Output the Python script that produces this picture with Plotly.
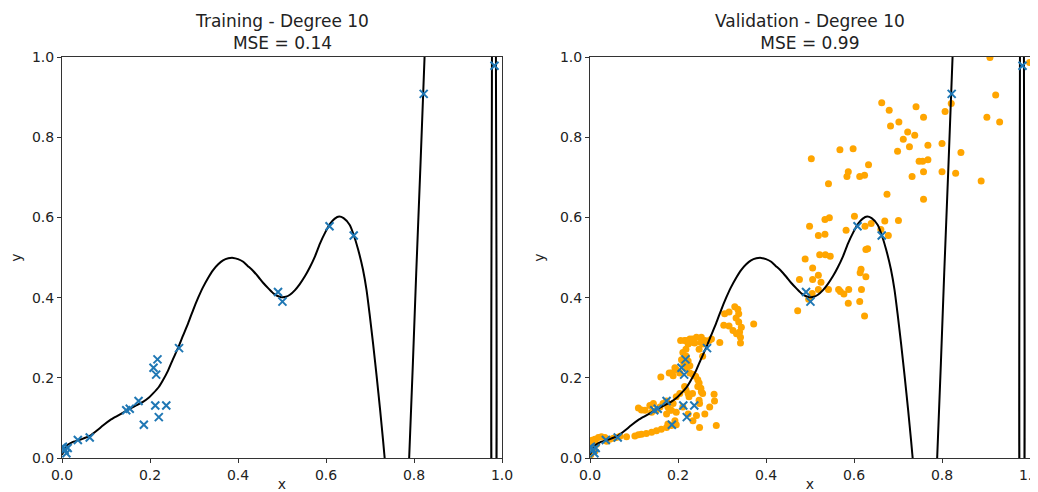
import plotly.graph_objects as go

# training points (blue x)
train_x = [0.002, 0.006, 0.01, 0.013, 0.036, 0.063, 0.146, 0.154, 0.174, 0.186,
           0.208, 0.214, 0.217, 0.212, 0.22, 0.237, 0.266, 0.491, 0.501,
           0.608, 0.663, 0.822, 0.983]
train_y = [0.028, 0.02, 0.012, 0.025, 0.045, 0.051, 0.119, 0.123, 0.142, 0.083,
           0.225, 0.208, 0.246, 0.131, 0.102, 0.131, 0.274, 0.414, 0.39,
           0.578, 0.555, 0.908, 0.978]

# fitted degree-10 curve
curve_x = [0.0, 0.01, 0.025, 0.045, 0.063, 0.08, 0.093, 0.11, 0.124, 0.14, 0.154, 0.17,
           0.184, 0.197, 0.207, 0.22, 0.23, 0.241, 0.252, 0.264, 0.275, 0.287, 0.298,
           0.31, 0.32, 0.332, 0.343, 0.355, 0.366, 0.378, 0.389, 0.4, 0.411, 0.422,
           0.434, 0.446, 0.457, 0.469, 0.48, 0.49, 0.499, 0.509, 0.518, 0.529, 0.54,
           0.552, 0.563, 0.575, 0.586, 0.598, 0.61, 0.62, 0.63, 0.64, 0.654, 0.663,
           0.673, 0.684, 0.692, 0.699, 0.707, 0.715, 0.723, 0.73, 0.735, 0.745, 0.762,
           0.778, 0.789, 0.805, 0.824, 0.84, 0.87, 0.9, 0.94, 0.965, 0.977, 0.9805,
           0.9825, 0.986, 1.0]
curve_y = [0.008, 0.03, 0.04, 0.047, 0.055, 0.069, 0.081, 0.095, 0.104, 0.114, 0.123, 0.132,
           0.14, 0.15, 0.161, 0.177, 0.195, 0.218, 0.246, 0.275, 0.305, 0.337, 0.369,
           0.401, 0.425, 0.449, 0.468, 0.483, 0.493, 0.498, 0.499, 0.496, 0.49, 0.479,
           0.467, 0.452, 0.437, 0.423, 0.411, 0.404, 0.401, 0.402, 0.407, 0.418, 0.433,
           0.453, 0.475, 0.503, 0.534, 0.562, 0.585, 0.597, 0.602, 0.598, 0.581, 0.556,
           0.52, 0.47, 0.42, 0.36, 0.285, 0.205, 0.12, 0.04, -0.02, -0.14, -0.25,
           -0.2, 0.0, 0.46, 1.0, 1.6, 2.8, 3.5, 3.3, 2.2, 1.2, -0.3,
           -0.3, 1.3, 5.0]

# validation points (orange)
val_x = [0.503, 0.542, 0.568, 0.598, 0.633, 0.587, 0.584, 0.613, 0.624, 0.675, 0.663, 0.68,
         0.683, 0.702, 0.699, 0.712, 0.722, 0.738, 0.726, 0.741, 0.758, 0.768, 0.748, 0.756,
         0.768, 0.732, 0.758, 0.758, 0.80, 0.80, 0.831, 0.843, 0.807, 0.821, 0.909, 0.922,
         0.902, 0.931, 0.889, 0.999,
         0.499, 0.519, 0.534, 0.534, 0.544, 0.582, 0.601, 0.625, 0.639, 0.661, 0.67, 0.678,
         0.701, 0.627, 0.631, 0.522, 0.535, 0.546, 0.489, 0.506, 0.519, 0.506, 0.525, 0.476,
         0.519, 0.542, 0.616, 0.614, 0.627, 0.569, 0.577, 0.588, 0.617, 0.587, 0.613, 0.624,
         0.472, 0.497, 0.505, 0.565,
         0.295, 0.306, 0.316, 0.329, 0.336, 0.338, 0.332, 0.338, 0.344, 0.34, 0.342, 0.342,
         0.304, 0.316, 0.325, 0.333, 0.372, 0.276, 0.253, 0.242, 0.227, 0.215, 0.238, 0.257,
         0.218, 0.233, 0.252, 0.248, 0.218, 0.256, 0.161, 0.18, 0.189, 0.193, 0.24, 0.248,
         0.252, 0.256, 0.248, 0.233, 0.225, 0.218, 0.282, 0.283, 0.287, 0.272, 0.261, 0.253,
         0.249, 0.249, 0.234, 0.223, 0.242, 0.245, 0.245, 0.234, 0.227, 0.215, 0.223, 0.204,
         0.196, 0.189, 0.185, 0.196, 0.211, 0.174, 0.177, 0.181, 0.174, 0.185, 0.196, 0.204,
         0.206, 0.223, 0.234, 0.261, 0.271, 0.211, 0.219, 0.223, 0.213, 0.208, 0.22, 0.227,
         0.083, 0.102, 0.11, 0.117, 0.128, 0.14, 0.151, 0.162, 0.174, 0.185, 0.196, 0.177,
         0.193,
         0.11, 0.117, 0.125, 0.136, 0.144, 0.151, 0.159, 0.166, 0.174, 0.14,
         0.004, 0.011, 0.019, 0.026, 0.034, 0.038, 0.045, 0.053, 0.06, 0.068, 0.004, 0.008,
         0.011, 0.002, 0.015]
val_y = [0.746, 0.684, 0.769, 0.771, 0.731, 0.714, 0.702, 0.702, 0.705, 0.658, 0.886, 0.867,
         0.828, 0.838, 0.765, 0.795, 0.813, 0.805, 0.776, 0.876, 0.85, 0.78, 0.74, 0.74,
         0.744, 0.702, 0.714, 0.645, 0.784, 0.714, 0.71, 0.762, 0.864, 0.884, 0.999, 0.905,
         0.85, 0.838, 0.691, 0.986,
         0.578, 0.555, 0.558, 0.595, 0.599, 0.568, 0.603, 0.578, 0.585, 0.57, 0.591, 0.555,
         0.592, 0.52, 0.522, 0.507, 0.507, 0.503, 0.496, 0.474, 0.456, 0.445, 0.438, 0.445,
         0.42, 0.42, 0.471, 0.462, 0.452, 0.415, 0.409, 0.42, 0.42, 0.386, 0.39, 0.354,
         0.367, 0.396, 0.41, 0.42,
         0.288, 0.36, 0.364, 0.377, 0.371, 0.36, 0.349, 0.339, 0.326, 0.314, 0.301, 0.287,
         0.331, 0.329, 0.318, 0.31, 0.334, 0.297, 0.301, 0.301, 0.297, 0.293, 0.287, 0.284,
         0.293, 0.297, 0.288, 0.271, 0.271, 0.254, 0.202, 0.212, 0.205, 0.225, 0.204, 0.187,
         0.174, 0.161, 0.144, 0.161, 0.153, 0.17, 0.159, 0.142, 0.081, 0.127, 0.11, 0.165,
         0.136, 0.076, 0.093, 0.11, 0.106, 0.195, 0.178, 0.208, 0.212, 0.178, 0.161, 0.161,
         0.153, 0.136, 0.119, 0.114, 0.127, 0.136, 0.127, 0.119, 0.11, 0.212, 0.22, 0.212,
         0.293, 0.284, 0.288, 0.293, 0.293, 0.263, 0.254, 0.242, 0.235, 0.245, 0.225, 0.23,
         0.053, 0.055, 0.058, 0.059, 0.061, 0.064, 0.068, 0.072, 0.076, 0.081, 0.083, 0.085,
         0.093,
         0.125, 0.12, 0.119, 0.131, 0.136, 0.119, 0.127, 0.136, 0.142, 0.114,
         0.044, 0.047, 0.051, 0.053, 0.051, 0.042, 0.047, 0.049, 0.051, 0.054, 0.034, 0.025,
         0.017, 0.008, 0.034]

ticks = [0.0, 0.2, 0.4, 0.6, 0.8, 1.0]
titles = ["Training - Degree 10<br>MSE = 0.14", "Validation - Degree 10<br>MSE = 0.99"]

BLUE = "#1f77b4"
ORANGE = "#ffa500"
FONT = "DejaVu Sans"

fig = go.Figure()

# validation dots go underneath everything on the right panel
fig.add_trace(go.Scatter(x=val_x, y=val_y, mode="markers", xaxis="x2", yaxis="y2",
                         marker=dict(color=ORANGE, size=7, line=dict(width=0)),
                         showlegend=False))

for xa, ya in [("x", "y"), ("x2", "y2")]:
    fig.add_trace(go.Scatter(x=curve_x, y=curve_y, mode="lines", xaxis=xa, yaxis=ya,
                             line=dict(color="black", width=2, shape="spline", smoothing=0.6),
                             showlegend=False))
    fig.add_trace(go.Scatter(x=train_x, y=train_y, mode="markers", xaxis=xa, yaxis=ya,
                             marker=dict(symbol="x-thin", size=8, color=BLUE,
                                         line=dict(width=2, color=BLUE)),
                             showlegend=False))

axis_style = dict(range=[0, 1], tickvals=ticks, tickformat=".1f", ticks="outside",
                  ticklen=4, tickwidth=1, tickcolor="#333", showline=True,
                  linecolor="#333", linewidth=1, mirror=True, showgrid=False,
                  zeroline=False, automargin=False, ticklabeloverflow="allow",
                  tickfont=dict(size=14, color="#222", family=FONT))

# page body adds an 8px offset, so the figure is 1030x484 and plot area is
# 62..1030 x 57..450 in window pixels
W = 1030 - 54 - 8
doms = [[0, 440 / W], [528 / W, 1]]

fig.update_layout(
    width=1030, height=484,
    margin=dict(l=54, r=8, t=49, b=34),
    plot_bgcolor="white", paper_bgcolor="white",
    font=dict(family=FONT, color="#222"),
    xaxis=dict(axis_style, domain=doms[0], anchor="y",
               title=dict(text="x", font=dict(size=14), standoff=6)),
    yaxis=dict(axis_style, domain=[0, 1], anchor="x",
               title=dict(text="y", font=dict(size=14), standoff=12)),
    xaxis2=dict(axis_style, domain=doms[1], anchor="y2",
                title=dict(text="x", font=dict(size=14), standoff=6)),
    yaxis2=dict(axis_style, domain=[0, 1], anchor="x2",
                title=dict(text="y", font=dict(size=14), standoff=12)),
)

for dom, t in zip(doms, titles):
    fig.add_annotation(text=t, x=(dom[0] + dom[1]) / 2, y=1, xref="paper", yref="paper",
                       xanchor="center", yanchor="bottom", yshift=2, showarrow=False,
                       font=dict(size=17, color="#222", family=FONT))

fig.write_html("out.html")
